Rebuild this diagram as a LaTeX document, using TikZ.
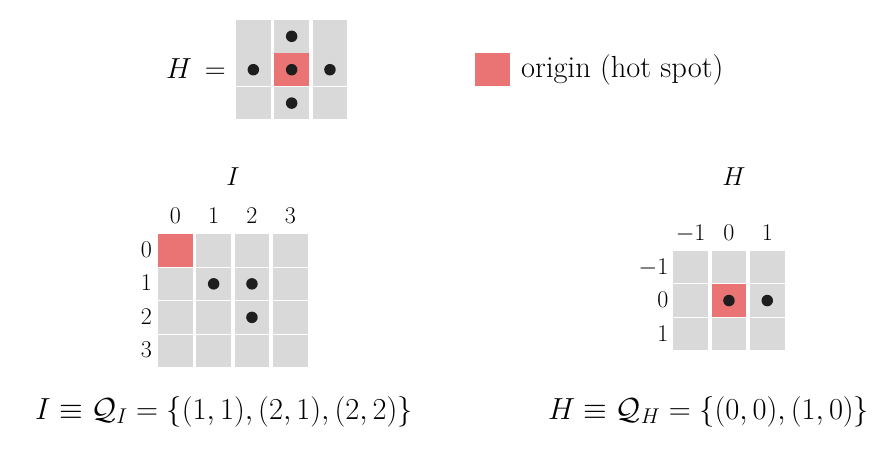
\RequirePackage{fix-cm}
\documentclass[tikz,border=0pt]{standalone}
\usepackage{amsmath,amssymb}
\definecolor{cellgray}{HTML}{D9D9D9}
\definecolor{hotred}{HTML}{EA7373}
\definecolor{dotcol}{HTML}{1E1E1E}
\tikzset{
  cellbox/.style={fill=cellgray, draw=none},
  hotbox/.style={fill=hotred, draw=none},
  dotmark/.style={circle, fill=dotcol, inner sep=0pt, minimum size=11.5pt},
  lbl/.style={inner sep=0pt, font=\fontsize{24}{28}\selectfont},
  ttl/.style={inner sep=0pt, font=\fontsize{26}{30}\selectfont},
  heqn/.style={inner sep=0pt, font=\fontsize{29}{34}\selectfont},
  eqn/.style={inner sep=0pt, font=\fontsize{30.5}{35}\selectfont},
  legtext/.style={inner sep=0pt, font=\fontsize{30.5}{35}\selectfont},
}
\begin{document}
\begin{tikzpicture}[x=1pt,y=-1pt]
\useasboundingbox[fill=white] (0,0) rectangle (896,475);
% ---------- top H kernel ----------
\foreach \c in {0,1,2}{
  \foreach \r in {0,1,2}{
    \path[cellbox] (236+\c*38.3, 20+\r*33.4) rectangle ++(34.7,32.6);
  }
}
\path[hotbox] (236+38.3, 20+33.4) rectangle ++(34.7,32.6);
\node[dotmark] (t01) at (236+38.3+17.35, 20+16.3) {};
\node[dotmark] (t10) at (236+17.35, 20+33.4+16.3) {};
\node[dotmark] (t11) at (236+38.3+17.35, 20+33.4+16.3) {};
\node[dotmark] (t21) at (236+2*38.3+17.35, 20+33.4+16.3) {};
\node[dotmark] (t12) at (236+38.3+17.35, 20+2*33.4+16.3) {};
\node[heqn, anchor=base west] (heq) at (166,78) {$H \,=$};
% legend
\path[hotbox] (475,53.3) rectangle (510,86);
\node[legtext, anchor=base west] (leg) at (521,77) {origin (hot spot)};
% ---------- I grid ----------
\node[ttl, anchor=base] (ttlI) at (233,185) {$I$};
\foreach \c in {0,1,2,3}{
  \foreach \r in {0,1,2,3}{
    \path[cellbox] (158+\c*38.3, 234+\r*33.5) rectangle ++(34.7,32.7);
  }
}
\path[hotbox] (158, 234) rectangle ++(34.7,32.7);
\foreach \c/\l in {0/0,1/1,2/2,3/3}{
  \node[lbl, anchor=base] (ic\c) at (158+\c*38.3+17.35, 223.5) {$\l$};
  \node[lbl, anchor=base] (ir\c) at (146.5, 234+\c*33.5+16.35+7) {$\l$};
}
\node[dotmark] (i11) at (158+38.3+17.35, 234+33.5+16.35) {};
\node[dotmark] (i21) at (158+2*38.3+17.35, 234+33.5+16.35) {};
\node[dotmark] (i22) at (158+2*38.3+17.35, 234+2*33.5+16.35) {};
\node[eqn, anchor=base west] (eqI) at (35,419) {$I \equiv \mathcal{Q}_I = \{(1,1),(2,1),(2,2)\}$};
% ---------- H grid ----------
\node[ttl, anchor=base] (ttlH) at (734,185) {$H$};
\foreach \c in {0,1,2}{
  \foreach \r in {0,1,2}{
    \path[cellbox] (673.3+\c*38.3, 250.7+\r*33.5) rectangle ++(34.7,32.7);
  }
}
\path[hotbox] (673.3+38.3, 250.7+33.5) rectangle ++(34.7,32.7);
\foreach \c/\l in {0/-1,1/0,2/1}{
  \node[lbl, anchor=base] (hc\c) at (673.3+\c*38.3+17.35, 240.5) {$\l$};
  \node[lbl, anchor=base east] (hr\c) at (668.5, 250.7+\c*33.5+16.35+7) {$\l$};
}
\node[dotmark] (h11) at (673.3+38.3+17.35, 250.7+33.5+16.35) {};
\node[dotmark] (h21) at (673.3+2*38.3+17.35, 250.7+33.5+16.35) {};
\node[eqn, anchor=base west] (eqH) at (548,419) {$H \equiv \mathcal{Q}_H = \{(0,0),(1,0)\}$};
\end{tikzpicture}
\end{document}
